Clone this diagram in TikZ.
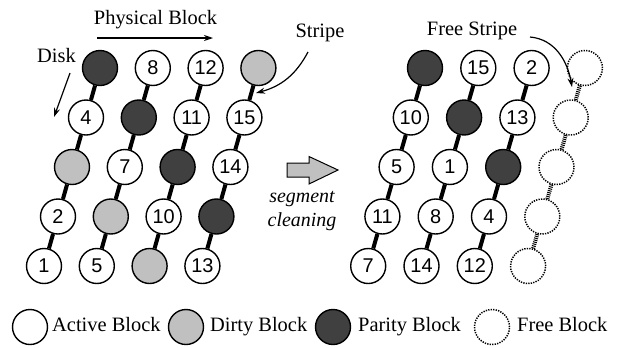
\documentclass[tikz,border=0pt]{standalone}
\usepackage{fontspec}
\setmainfont{Liberation Serif}
\newfontfamily\numfont{Liberation Sans}
\usetikzlibrary{arrows.meta}
\definecolor{dirtygray}{HTML}{C0C0C0}
\definecolor{paritygray}{HTML}{404040}
\begin{document}
\begin{tikzpicture}[x=1bp,y=-1bp,
 blk/.style={circle,draw=black,line width=1.4bp,minimum size=35bp,inner sep=0pt,font=\numfont\fontsize{20}{20}\selectfont},
 active/.style={blk,fill=white},
 dirty/.style={blk,fill=dirtygray},
 parity/.style={blk,fill=paritygray},
 free/.style={blk,line width=1.5bp,dash pattern=on 1.3bp off 1.2bp},
 link/.style={line width=4bp},
 freelink/.style={line width=4bp,dash pattern=on 1bp off 1bp},
 lbl/.style={font=\fontsize{20.5}{24}\selectfont,inner sep=0pt},
 itl/.style={font=\fontsize{20}{24}\selectfont\itshape,inner sep=0pt},
 pointer/.style={line width=1.2bp,-{Stealth[length=9bp,width=6bp]}},
]
\useasboundingbox (0,0) rectangle (626,347);

% left group
\foreach \r/\c/\t/\l in {
 0/0/parity/{},0/1/active/8,0/2/active/12,0/3/dirty/{},
 1/0/active/4,1/1/parity/{},1/2/active/11,1/3/active/15,
 2/0/dirty/{},2/1/active/7,2/2/parity/{},2/3/active/14,
 3/0/active/2,3/1/dirty/{},3/2/active/10,3/3/parity/{},
 4/0/active/1,4/1/active/5,4/2/dirty/{},4/3/active/13}
 {\node[\t] (L\r\c) at ({100+52.8*\c-14*\r},{68+49.5*\r}) {\l};}

% right group
\foreach \r/\c/\t/\l in {
 0/0/parity/{},0/1/active/15,0/2/active/2,0/3/free/{},
 1/0/active/10,1/1/parity/{},1/2/active/13,1/3/free/{},
 2/0/active/5,2/1/active/1,2/2/parity/{},2/3/free/{},
 3/0/active/11,3/1/active/8,3/2/active/4,3/3/free/{},
 4/0/active/7,4/1/active/14,4/2/active/12,4/3/free/{}}
 {\node[\t] (R\r\c) at ({425+53.3*\c-14.2*\r},{68+49.5*\r}) {\l};}

% connectors
\foreach \c in {0,1,2,3}{
  \foreach \r [evaluate=\r as \rn using int(\r+1)] in {0,1,2,3}{
    \draw[link] (L\r\c) -- (L\rn\c);
  }
}
\foreach \c in {0,1,2}{
  \foreach \r [evaluate=\r as \rn using int(\r+1)] in {0,1,2,3}{
    \draw[link] (R\r\c) -- (R\rn\c);
  }
}
\foreach \r [evaluate=\r as \rn using int(\r+1)] in {0,1,2,3}{
  \draw[freelink] (R\r3) -- (R\rn3);
}

% labels
\node[lbl,anchor=base] (phys) at (155.5,24) {Physical Block};
\coordinate (physA) at (97,38);
\coordinate (physB) at (213,38);
\draw[pointer] (physA) -- (physB);

\node[lbl,anchor=base] (disk) at (56.5,62) {Disk};
\coordinate (diskA) at (70,73);
\coordinate (diskB) at (54,117);
\draw[pointer] (diskA) -- (diskB);

\node[lbl,anchor=base] (stripe) at (320,37) {Stripe};
\coordinate (stripeA) at (308,52);
\coordinate (stripeB) at (256,93);
\draw[pointer] (stripeA) to[out=-118,in=15] (stripeB);

\node[lbl,anchor=base] (fstripe) at (472,35) {Free Stripe};
\coordinate (fstripeA) at (530,37);
\coordinate (fstripeB) at (572,87);
\draw[pointer] (fstripeA) to[out=-5,in=100] (fstripeB);

% segment cleaning arrow
\draw[fill=dirtygray,line width=1bp] (287,163) -- (309,163) -- (309,156.5) -- (338,170) -- (309,184) -- (309,177) -- (287,177) -- cycle;
\node[itl,anchor=base] (seg) at (302,202) {segment};
\node[itl,anchor=base] (clean) at (302,226) {cleaning};

% legend
\node[active] (legA) at (30,327) {};
\node[lbl,anchor=base west] (legAt) at (52,331) {Active Block};
\node[dirty] (legD) at (186,327) {};
\node[lbl,anchor=base west] (legDt) at (210,331) {Dirty Block};
\node[parity] (legP) at (333,327) {};
\node[lbl,anchor=base west] (legPt) at (358,331) {Parity Block};
\node[free] (legF) at (492,327) {};
\node[lbl,anchor=base west] (legFt) at (517,331) {Free Block};
\end{tikzpicture}
\end{document}
